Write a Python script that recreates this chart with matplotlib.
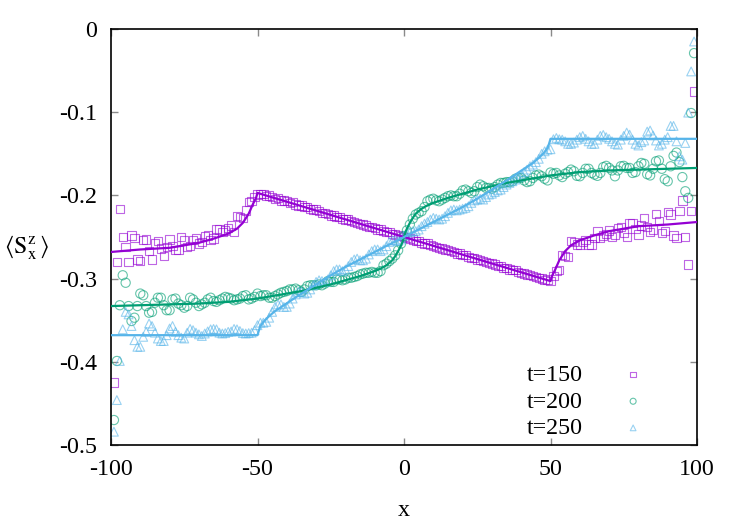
import matplotlib
matplotlib.use('Agg')
import matplotlib.pyplot as plt

plt.rcParams['font.family'] = ['Liberation Serif', 'DejaVu Serif']
plt.rcParams['mathtext.fontset'] = 'stix'
plt.rcParams['axes.unicode_minus'] = False

# ---------------- data ----------------
x_points = list(range(-99, 100))

purple_left = [-0.425, -0.280, -0.216, -0.250, -0.262, -0.280, -0.248, -0.251, -0.277, -0.279,
               -0.254, -0.253, -0.267, -0.277, -0.258, -0.255, -0.264, -0.273, -0.262, -0.253,
               -0.261, -0.266, -0.266, -0.250, -0.254, -0.262, -0.261, -0.254, -0.251, -0.258,
               -0.256, -0.249, -0.248, -0.254, -0.252, -0.240, -0.241, -0.244, -0.242, -0.239,
               -0.236, -0.244, -0.225, -0.226, -0.227, -0.218, -0.208, -0.207, -0.202, -0.199]
purple_mid = [-0.198, -0.198, -0.201, -0.200, -0.202, -0.204, -0.203, -0.206, -0.206, -0.207,
              -0.209, -0.208, -0.211, -0.212, -0.212, -0.214, -0.214, -0.216, -0.217, -0.217,
              -0.219, -0.221, -0.221, -0.222, -0.224, -0.224, -0.226, -0.226, -0.228, -0.229,
              -0.229, -0.231, -0.232, -0.233, -0.234, -0.235, -0.236, -0.238, -0.238, -0.239,
              -0.241, -0.241, -0.243, -0.244, -0.244, -0.246, -0.247, -0.248, -0.249, -0.250,
              -0.251, -0.252, -0.253, -0.255, -0.255, -0.257, -0.258, -0.258, -0.260, -0.261,
              -0.262, -0.263, -0.264, -0.265, -0.266, -0.267, -0.268, -0.270, -0.270, -0.272,
              -0.272, -0.274, -0.275, -0.275, -0.277, -0.278, -0.279, -0.280, -0.281, -0.282,
              -0.283, -0.285, -0.285, -0.287, -0.287, -0.289, -0.290, -0.290, -0.292, -0.293,
              -0.294, -0.295, -0.296, -0.297, -0.298, -0.299, -0.300, -0.302, -0.301]
purple_right = [-0.303, -0.297, -0.291, -0.290, -0.272, -0.273, -0.274, -0.255, -0.256, -0.259,
                -0.259, -0.256, -0.254, -0.259, -0.259, -0.251, -0.243, -0.251, -0.248, -0.246,
                -0.242, -0.250, -0.247, -0.239, -0.238, -0.245, -0.250, -0.233, -0.233, -0.240,
                -0.247, -0.236, -0.227, -0.238, -0.244, -0.241, -0.222, -0.231, -0.245, -0.243,
                -0.220, -0.223, -0.248, -0.251, -0.219, -0.206, -0.250, -0.283, -0.219, -0.075]

green_left = [-0.470, -0.399, -0.332, -0.296, -0.305, -0.333, -0.351, -0.347, -0.333, -0.318,
              -0.320, -0.333, -0.341, -0.340, -0.329, -0.323, -0.323, -0.332, -0.338, -0.338,
              -0.325, -0.324, -0.330, -0.332, -0.335, -0.333, -0.323, -0.325, -0.329, -0.333,
              -0.331, -0.329, -0.325, -0.323, -0.327, -0.328, -0.326, -0.324, -0.322, -0.323,
              -0.324, -0.326, -0.325, -0.324, -0.321, -0.320, -0.325, -0.324, -0.322, -0.318]
green_mid = [-0.321, -0.320, -0.320, -0.323, -0.323, -0.321, -0.319, -0.317, -0.316, -0.315,
             -0.313, -0.313, -0.312, -0.314, -0.316, -0.313, -0.309, -0.308, -0.308, -0.308,
             -0.307, -0.308, -0.306, -0.303, -0.304, -0.304, -0.301, -0.301, -0.302, -0.301,
             -0.299, -0.299, -0.298, -0.297, -0.295, -0.294, -0.293, -0.293, -0.292, -0.293,
             -0.293, -0.291, -0.284, -0.282, -0.279, -0.276, -0.272, -0.266, -0.258, -0.249,
             -0.242, -0.235, -0.228, -0.223, -0.221, -0.219, -0.214, -0.207, -0.205, -0.204,
             -0.206, -0.207, -0.205, -0.203, -0.201, -0.200, -0.201, -0.201, -0.198, -0.194,
             -0.193, -0.195, -0.197, -0.195, -0.190, -0.187, -0.189, -0.191, -0.191, -0.192,
             -0.190, -0.187, -0.185, -0.185, -0.184, -0.184, -0.183, -0.180, -0.179, -0.179,
             -0.182, -0.184, -0.183, -0.179, -0.176, -0.175, -0.177, -0.180, -0.182]
green_right = [-0.1725, -0.174, -0.173, -0.176, -0.178, -0.174, -0.172, -0.169, -0.171, -0.1765,
               -0.177, -0.173, -0.168, -0.168, -0.173, -0.175, -0.1765, -0.173, -0.166, -0.1645,
               -0.167, -0.170, -0.177, -0.170, -0.165, -0.1645, -0.167, -0.167, -0.173, -0.172,
               -0.165, -0.161, -0.162, -0.1745, -0.176, -0.168, -0.159, -0.158, -0.168, -0.1805,
               -0.183, -0.165, -0.1525, -0.1485, -0.160, -0.178, -0.195, -0.203, -0.101, -0.029]

cyan_left = [-0.484, -0.446, -0.399, -0.361, -0.340, -0.343, -0.357, -0.374, -0.382, -0.382,
             -0.370, -0.364, -0.354, -0.357, -0.365, -0.372, -0.375, -0.375, -0.368, -0.360,
             -0.357, -0.364, -0.368, -0.371, -0.372, -0.365, -0.3605, -0.362, -0.365, -0.367,
             -0.369, -0.366, -0.3635, -0.361, -0.3605, -0.361, -0.365, -0.366, -0.3655, -0.364,
             -0.3635, -0.3605, -0.361, -0.363, -0.3655, -0.366, -0.3655, -0.365, -0.362, -0.356]
cyan_mid = [-0.353, -0.353, -0.352, -0.347, -0.340, -0.334, -0.331, -0.331, -0.334, -0.334,
            -0.330, -0.324, -0.319, -0.316, -0.316, -0.318, -0.317, -0.313, -0.308, -0.304,
            -0.302, -0.303, -0.304, -0.301, -0.296, -0.291, -0.289, -0.289, -0.291, -0.289,
            -0.285, -0.280, -0.277, -0.276, -0.278, -0.278, -0.276, -0.271, -0.267, -0.265,
            -0.265, -0.267, -0.265, -0.261, -0.256, -0.254, -0.254, -0.255, -0.253, -0.248,
            -0.246, -0.244, -0.243, -0.243, -0.241, -0.237, -0.234, -0.232, -0.229, -0.227,
            -0.228, -0.229, -0.228, -0.225, -0.221, -0.218, -0.217, -0.218, -0.217, -0.216,
            -0.215, -0.213, -0.209, -0.206, -0.205, -0.204, -0.205, -0.202, -0.199, -0.198,
            -0.196, -0.194, -0.193, -0.190, -0.187, -0.185, -0.183, -0.181, -0.178, -0.175,
            -0.172, -0.169, -0.165, -0.163, -0.160, -0.156, -0.150, -0.147, -0.145]
cyan_right = [-0.1445, -0.1325, -0.131, -0.1325, -0.133, -0.135, -0.138, -0.138, -0.1365, -0.133,
              -0.130, -0.1285, -0.132, -0.135, -0.138, -0.138, -0.133, -0.1285, -0.1273, -0.130,
              -0.132, -0.135, -0.138, -0.139, -0.133, -0.1285, -0.1245, -0.127, -0.133, -0.138,
              -0.140, -0.136, -0.134, -0.1233, -0.122, -0.128, -0.134, -0.140, -0.138, -0.133,
              -0.130, -0.1165, -0.1165, -0.135, -0.153, -0.157, -0.137, -0.1005, -0.051, -0.015]

purple_line_x = [-100, -90, -80, -70, -65, -60, -57, -55, -53, -51.5, -50.5, -50,
                 50, 50.5, 51.5, 53, 55, 57, 60, 65, 70, 80, 90, 100]
purple_line_y = [-0.268, -0.265, -0.263, -0.257, -0.252, -0.246, -0.240, -0.233, -0.222, -0.210, -0.203, -0.197,
                 -0.303, -0.297, -0.290, -0.278, -0.267, -0.260, -0.254, -0.248, -0.243, -0.237, -0.235, -0.232]

green_line_x = [-100, -90, -80, -70, -60, -55, -50, -45, -40, -35, -30, -25, -20, -15, -10, -8, -6, -4, -3, -2, -1, -0.5,
                0, 0.5, 1, 2, 3, 4, 6, 8, 10, 15, 20, 25, 30, 35, 40, 45, 50, 55, 60, 70, 80, 90, 100]
green_line_y = [-0.333, -0.332, -0.331, -0.330, -0.328, -0.326, -0.324, -0.321, -0.318, -0.315, -0.311, -0.307,
                -0.302, -0.297, -0.291, -0.288, -0.284, -0.278, -0.273, -0.267, -0.260, -0.256,
                -0.250, -0.244, -0.240, -0.233, -0.227, -0.222, -0.216, -0.212, -0.209, -0.203, -0.198,
                -0.193, -0.189, -0.185, -0.182, -0.179, -0.176, -0.174, -0.172, -0.170, -0.169, -0.168, -0.167]

cyan_line_x = [-100, -50, -49.5, -49, -48, -46, -44, -41, -35, -30, -25, -20, -15, -10, -5, 0,
               5, 10, 15, 20, 25, 30, 35, 41, 44, 46, 48, 49, 49.5, 50, 100]
cyan_line_y = [-0.368, -0.368, -0.362, -0.357, -0.352, -0.345, -0.339, -0.332, -0.318, -0.307, -0.296,
               -0.286, -0.277, -0.268, -0.259, -0.250, -0.241, -0.232, -0.223, -0.214, -0.204, -0.193,
               -0.182, -0.168, -0.161, -0.155, -0.148, -0.143, -0.138, -0.132, -0.132]

labels = ['t=150', 't=200', 't=250']
x_ticks = [-100, -50, 0, 50, 100]
x_tick_labels = ['-100', '-50', '0', '50', '100']
y_ticks = [0, -0.1, -0.2, -0.3, -0.4, -0.5]
y_tick_labels = ['0', '-0.1', '-0.2', '-0.3', '-0.4', '-0.5']

# ---------------- plot ----------------
colors = ['#9400d3', '#009e73', '#56b4e9']
markers = ['s', 'o', '^']
sizes = [36, 44, 40]

fig = plt.figure(figsize=(7.55, 5.25), dpi=100)
ax = fig.add_axes([111 / 755, 1 - 445 / 525, 586 / 755, 416 / 525])

series = [purple_left + purple_mid + purple_right,
          green_left + green_mid + green_right,
          cyan_left + cyan_mid + cyan_right]
lines = [(purple_line_x, purple_line_y), (green_line_x, green_line_y), (cyan_line_x, cyan_line_y)]

handles = []
for ys, (lx, ly), c, m, s, lab in zip(series, lines, colors, markers, sizes, labels):
    h = ax.scatter(x_points, ys, marker=m, s=s, facecolors='none', edgecolors=c,
                   linewidths=0.8, alpha=0.6, label=lab, zorder=2)
    handles.append(h)
    ax.plot(lx, ly, color=c, lw=1.6, zorder=3)

ax.set_xlim(-100, 100)
ax.set_ylim(-0.5, 0)
ax.set_xticks(x_ticks)
ax.set_xticklabels(x_tick_labels)
ax.set_yticks(y_ticks)
ax.set_yticklabels(y_tick_labels)
ax.tick_params(direction='in', length=5, width=1, color='#8a8a8a', top=True, right=True,
               labelsize=17.3, pad=10, labelcolor='black')
for sp in ax.spines.values():
    sp.set_linewidth(1.2)
    sp.set_color('black')

leg = ax.legend(handles=handles, labels=labels, markerfirst=False, frameon=False,
                loc='lower right', bbox_to_anchor=(0.932, 0.014), borderaxespad=0,
                borderpad=0, handlelength=2, handletextpad=1.08, labelspacing=0.2,
                fontsize=17.3, scatterpoints=1, markerscale=0.65)

fig.text(404 / 755, 1 - 510 / 525, 'x', fontsize=17.3, ha='center', va='center')
fig.text(27 / 755, 1 - 248 / 525, r'$\langle\mathrm{S}^{\mathrm{z}}_{\mathrm{x}}\,\rangle$',
         fontsize=17.3, ha='center', va='center')

fig.savefig('out.png', dpi=100)
